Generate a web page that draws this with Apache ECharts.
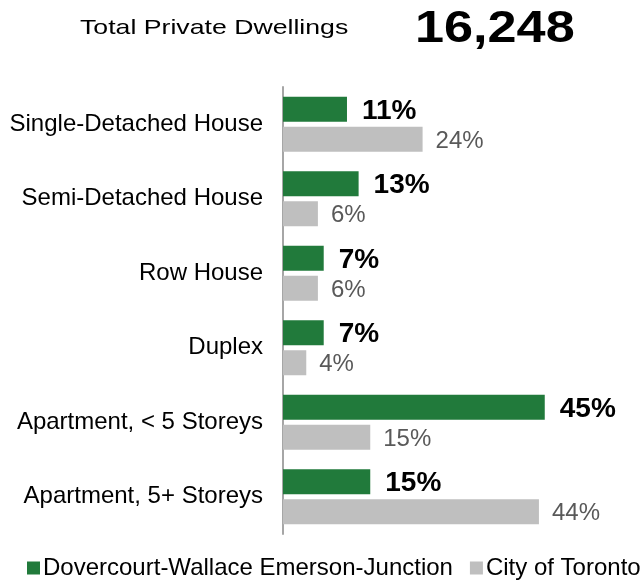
<!DOCTYPE html>
<html>
<head>
<meta charset="utf-8">
<script src="https://cdn.jsdelivr.net/npm/echarts@6/dist/echarts.min.js"></script>
<style>
  html, body { margin: 0; padding: 0; background: #fff; }
  #chart { width: 644px; height: 581px; }
</style>
</head>
<body>
<div id="chart"></div>
<script>
// Dwelling types, top to bottom
const categories = [
  'Single-Detached House',
  'Semi-Detached House',
  'Row House',
  'Duplex',
  'Apartment, < 5 Storeys',
  'Apartment, 5+ Storeys'
];
const neighbourhoodName = 'Dovercourt-Wallace Emerson-Junction';
const cityName = 'City of Toronto';
const neighbourhoodShare = [11, 13, 7, 7, 45, 15];
const cityShare = [24, 6, 6, 4, 15, 44];
const totalLabel = 'Total Private Dwellings';
const totalValue = '16,248';

const FONT = '"Liberation Sans", Arial, sans-serif';
const chart = echarts.init(document.getElementById('chart'));

chart.setOption({
  animation: false,
  textStyle: { fontFamily: FONT },
  graphic: [
    {
      type: 'text', x: 80, y: 18, scaleX: 1.27, scaleY: 1,
      style: { text: totalLabel, font: '21px ' + FONT, fill: '#000' }
    },
    {
      type: 'text', x: 415, y: 7, scaleX: 1.16, scaleY: 1,
      style: { text: totalValue, font: 'bold 45px ' + FONT, fill: '#000' }
    }
  ],
  legend: {
    top: 556,
    left: 27,
    width: 617,
    padding: 0,
    icon: 'rect',
    itemWidth: 13,
    itemHeight: 13,
    itemGap: 17,
    textStyle: { fontSize: 24, color: '#000', fontFamily: FONT, padding: [0, 0, 0, -2] },
    data: [neighbourhoodName, cityName]
  },
  grid: { left: 283, right: 12, top: 87, bottom: 47, containLabel: false },
  xAxis: {
    type: 'value', min: 0, max: 60,
    show: false
  },
  yAxis: {
    type: 'category',
    data: categories,
    inverse: true,
    axisLine: { show: true, lineStyle: { color: '#A6A6A6', width: 2 } },
    axisTick: { show: false },
    axisLabel: { fontSize: 24, color: '#000', margin: 20, fontFamily: FONT }
  },
  series: [
    {
      name: neighbourhoodName,
      type: 'bar',
      data: neighbourhoodShare,
      barWidth: 25,
      barGap: '20%',
      itemStyle: { color: '#217A3B' },
      label: {
        show: true, position: 'right', distance: 15,
        formatter: '{c}%', fontSize: 28, fontWeight: 'bold', color: '#000',
        fontFamily: FONT, offset: [0, 2]
      }
    },
    {
      name: cityName,
      type: 'bar',
      data: cityShare,
      barWidth: 25,
      itemStyle: { color: '#BFBFBF' },
      label: {
        show: true, position: 'right', distance: 13,
        formatter: '{c}%', fontSize: 24, color: '#595959',
        fontFamily: FONT, offset: [0, 2]
      }
    }
  ]
});
</script>
</body>
</html>
